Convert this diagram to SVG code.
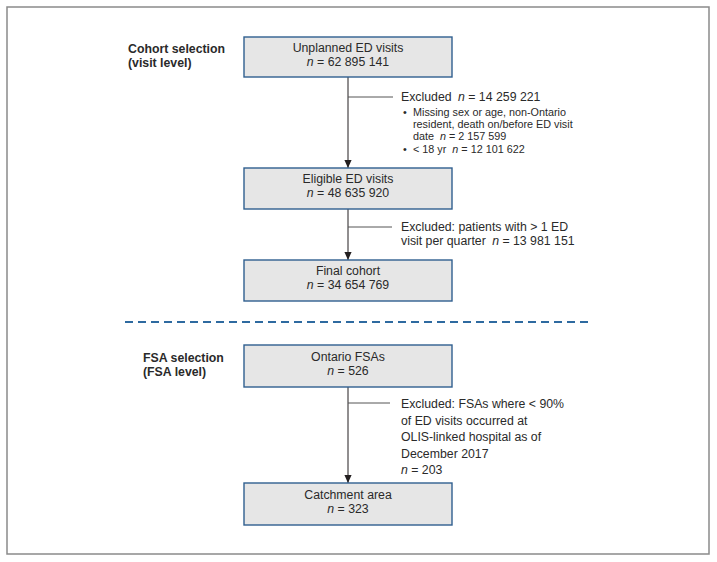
<svg xmlns="http://www.w3.org/2000/svg" width="717" height="562" viewBox="0 0 717 562">
<style>
text{font-family:"Liberation Sans",Arial,sans-serif;fill:#2a2a2a}
.t{font-size:12.3px}
.c{text-anchor:middle}
.b{font-weight:bold}
.s{font-size:10.8px}
.i{font-style:italic}
.box{fill:#e6e6e6;stroke:#2f5f8f;stroke-width:1.4}
.ln{stroke:#231f20;stroke-width:1;fill:none}
.br{stroke:#555;stroke-width:1;fill:none}
</style>
<defs>
<marker id="ar" viewBox="0 0 10 10" refX="10" refY="5" markerWidth="9" markerHeight="8" markerUnits="userSpaceOnUse" orient="auto">
<path d="M0,0.5 L10,5 L0,9.5 Z" fill="#231f20"/>
</marker>
</defs>
<rect x="7" y="7" width="702" height="547" fill="#fff" stroke="#8a8a8a" stroke-width="1.5"/>
<g id="labels">
<text class="t b" x="128" y="53">Cohort selection</text>
<text class="t b" x="128" y="67">(visit level)</text>
<text class="t b" x="143" y="362">FSA selection</text>
<text class="t b" x="143" y="376">(FSA level)</text>
</g>
<line x1="125" y1="322" x2="592" y2="322" stroke="#2e6aa0" stroke-width="2" stroke-dasharray="8 5"/>
<g id="connectors">
<line class="ln" x1="348" y1="77" x2="348" y2="168" marker-end="url(#ar)"/>
<line class="br" x1="348" y1="97" x2="393" y2="97"/>
<line class="ln" x1="348" y1="209" x2="348" y2="260" marker-end="url(#ar)"/>
<line class="br" x1="348" y1="227" x2="392" y2="227"/>
<line class="ln" x1="348" y1="387" x2="348" y2="483" marker-end="url(#ar)"/>
<line class="br" x1="348" y1="403" x2="390" y2="403"/>
</g>
<g id="n1">
<rect class="box" x="244" y="37" width="208" height="40"/>
<text class="t c" x="348" y="52">Unplanned ED visits</text>
<text class="t c" x="348" y="66"><tspan class="i">n</tspan> = 62 895 141</text>
</g>
<g id="ex1">
<text class="t" x="401" y="101">Excluded <tspan class="i" dx="3">n</tspan> = 14 259 221</text>
<text class="s" x="403" y="116">•</text>
<text class="s" x="413" y="116">Missing sex or age, non-Ontario</text>
<text class="s" x="413" y="128">resident, death on/before ED visit</text>
<text class="s" x="413" y="140">date <tspan class="i" dx="3">n</tspan> = 2 157 599</text>
<text class="s" x="403" y="153">•</text>
<text class="s" x="413" y="153">&lt; 18 yr <tspan class="i" dx="3">n</tspan> = 12 101 622</text>
</g>
<g id="n2">
<rect class="box" x="244" y="168" width="208" height="41"/>
<text class="t c" x="348" y="183">Eligible ED visits</text>
<text class="t c" x="348" y="197"><tspan class="i">n</tspan> = 48 635 920</text>
</g>
<g id="ex2">
<text class="t" x="401" y="231">Excluded: patients with &gt; 1 ED</text>
<text class="t" x="401" y="245">visit per quarter <tspan class="i" dx="3">n</tspan> = 13 981 151</text>
</g>
<g id="n3">
<rect class="box" x="244" y="260" width="208" height="41"/>
<text class="t c" x="348" y="275">Final cohort</text>
<text class="t c" x="348" y="289"><tspan class="i">n</tspan> = 34 654 769</text>
</g>
<g id="n4">
<rect class="box" x="244" y="345" width="208" height="42"/>
<text class="t c" x="348" y="361">Ontario FSAs</text>
<text class="t c" x="348" y="375"><tspan class="i">n</tspan> = 526</text>
</g>
<g id="ex3">
<text class="t" x="401" y="408">Excluded: FSAs where &lt; 90%</text>
<text class="t" x="401" y="424.5">of ED visits occurred at</text>
<text class="t" x="401" y="441">OLIS-linked hospital as of</text>
<text class="t" x="401" y="457.5">December 2017</text>
<text class="t" x="401" y="474"><tspan class="i">n</tspan> = 203</text>
</g>
<g id="n5">
<rect class="box" x="244" y="483" width="208" height="42"/>
<text class="t c" x="348" y="499">Catchment area</text>
<text class="t c" x="348" y="513"><tspan class="i">n</tspan> = 323</text>
</g>
</svg>
